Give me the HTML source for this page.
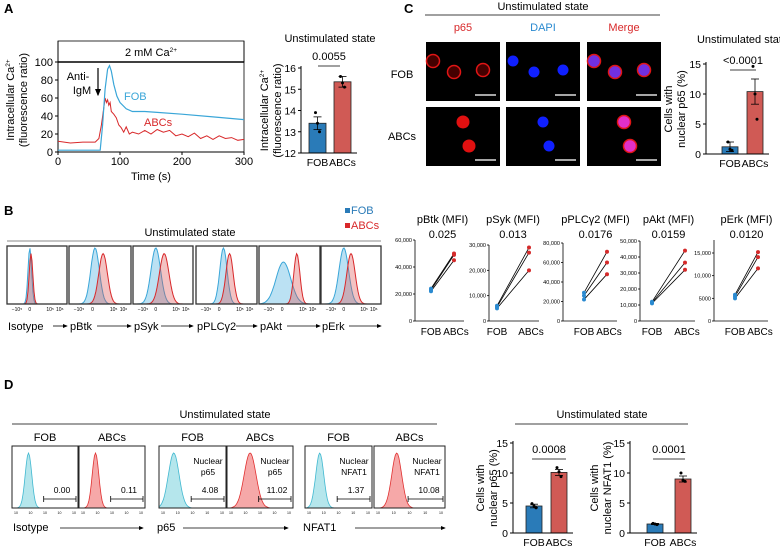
<!DOCTYPE html>
<html><head><meta charset="utf-8">
<style>
html,body{margin:0;padding:0;background:#fff;}
svg{display:block;font-family:"Liberation Sans",Arial,sans-serif;}
</style></head>
<body>
<svg id="fig" width="780" height="550" viewBox="0 0 780 550" xmlns="http://www.w3.org/2000/svg">
<defs>
<marker id="arr" markerWidth="6" markerHeight="6" refX="5" refY="3" orient="auto"><path d="M0,0.5 L6,3 L0,5.5 Z" fill="#000"/></marker>
</defs>
<g id="root"></g>
</svg>
<script>
// ---------- DATA ----------
const caTimesFOB=[0,60,68,72,76,80,83,86,90,95,100,110,120,140,160,200,250,300];
const caValsFOB=[2,2,2,30,70,92,96,90,75,62,55,48,45,45,44,42,39,36];
const caTimesABC=[0,20,40,60,66,70,74,76,78,80,82,84,86,90,94,98,102,106,110,115,120,130,140,150,160,170,180,190,200,210,220,230,240,250,260,270,280,290,300];
const caValsABC=[12,10,11,11,15,30,50,60,55,58,52,55,45,42,38,30,27,22,28,20,22,20,24,20,25,22,24,18,20,17,21,15,18,14,18,15,16,13,14];
const caTicksX=[0,100,200,300];
const caTicksY=[0,20,40,60,80,100];
const groups=["FOB","ABCs"];
const caBarMeans=[13.4,15.35];
const caBarSEM=[0.3,0.25];
const caBarPts=[[13.9,13.4,13.0],[15.6,15.3,15.1]];
const caBarTicks=[12,13,14,15,16];
const p65Means=[1.2,10.4];
const p65SEM=[0.8,2.1];
const p65Pts=[[2.0,0.8,0.6],[14.6,10.0,5.8]];
const p65Ticks=[0,5,10,15];
const mfiTitles=["pBtk (MFI)","pSyk (MFI)","pPLCγ2 (MFI)","pAkt (MFI)","pErk (MFI)"];
const mfiP=["0.025","0.013","0.0176","0.0159","0.0120"];
const mfiFOB=[[24000,23000,22000],[6000,5500,5000],[29000,26000,22000],[12000,11500,11000],[5800,5400,5000]];
const mfiABC=[[50000,49000,45000],[29000,27000,20000],[71000,60000,48000],[44000,36500,32000],[15200,14100,11600]];
const mfiTicks=[[0,20000,40000,60000],[0,10000,20000,30000],[0,20000,40000,60000,80000],[0,10000,20000,30000,40000,50000],[0,5000,10000,15000]];
const histNames=["Isotype","pBtk","pSyk","pPLCγ2","pAkt","pErk"];
const histFOBmu=[0.38,0.42,0.38,0.45,0.40,0.38];
const histFOBsd=[0.03,0.07,0.08,0.06,0.12,0.08];
const histABCmu=[0.40,0.55,0.52,0.55,0.62,0.50];
const histABCsd=[0.03,0.07,0.08,0.06,0.05,0.07];
const dNuc65Means=[4.5,10.1];
const dNuc65SEM=[0.3,0.5];
const dNuc65Pts=[[4.9,4.5,4.2],[10.9,10.2,9.4]];
const dNfatMeans=[1.5,9.0];
const dNfatSEM=[0.1,0.5];
const dNfatPts=[[1.6,1.5,1.4],[10.0,8.8,8.6]];
const dHistVals=["0.00","0.11","4.08","11.02","1.37","10.08"];

// ---------- helpers ----------
const NS="http://www.w3.org/2000/svg";
const root=document.getElementById('root');
function el(tag,attrs,parent,text){const e=document.createElementNS(NS,tag);for(const k in attrs)e.setAttribute(k,attrs[k]);if(text!==undefined)e.textContent=text;(parent||root).appendChild(e);return e;}
function txt(x,y,s,size,parent,anchor,fill,name){const t=el('text',{x:x,y:y,'font-size':size,'text-anchor':anchor||'middle',fill:fill||'#000'},parent,s);

return t;}
function line(x1,y1,x2,y2,stroke,w,parent){return el('line',{x1:x1,y1:y1,x2:x2,y2:y2,stroke:stroke||'#000','stroke-width':w||1},parent);}
const BLUE="#2a7bb8",RED="#d05a55",CYAN="#3aa6d8",TRED="#d8282a";

txt(4,13,"A",13,root,'start','#000','panel-label-a').setAttribute('font-weight','bold');
txt(404,13,"C",13,root,'start','#000','panel-label-c').setAttribute('font-weight','bold');
txt(4,215,"B",13,root,'start','#000','panel-label-b').setAttribute('font-weight','bold');
txt(4,389,"D",13,root,'start','#000','panel-label-d').setAttribute('font-weight','bold');

// ---------- Panel A trace ----------
(function(){
const g=el('g',{});
const x0=58,x1=244,y0=152,y1=62;
const sx=t=>x0+(x1-x0)*t/300, sy=v=>y0-(y0-y1)*v/100;
el('rect',{x:x0,y:41,width:x1-x0,height:21,fill:'none',stroke:'#000','stroke-width':0.8},g);
line(x0,62,x1,62,'#000',1.6,g);
line(x1,41,x1,y0,'#000',0.8,g);
txt(151,56,"2 mM Ca",11,g,'middle','#000','calcium-condition').innerHTML='2 mM Ca<tspan font-size="6.5" dy="-4">2+</tspan>';
line(x0,y0,x1,y0,'#000',1,g);line(x0,41,x0,y0,'#000',1,g);
caTicksX.forEach(t=>{line(sx(t),y0,sx(t),y0+3,'#000',1,g);txt(sx(t),y0+13,String(t),11,g,'middle','#000','x-tick');});
caTicksY.forEach(v=>{line(x0-3,sy(v),x0,sy(v),'#000',1,g);txt(x0-5,sy(v)+4,String(v),11,g,'end','#000','y-tick');});
txt(151,180,"Time (s)",11,g,'middle','#000','x-axis-title');
const yl=el('g',{transform:'translate(14,100) rotate(-90)'},g);
txt(0,0,"",11,yl,'middle').innerHTML='Intracellular Ca<tspan font-size="6.5" dy="-4">2+</tspan>';
txt(0,13,"(fluorescence ratio)",11,yl,'middle');
const pA=caTimesABC.map((t,i)=>(i?'L':'M')+sx(t).toFixed(1)+','+sy(caValsABC[i]).toFixed(1)).join('');
const a=el('path',{d:pA,fill:'none',stroke:TRED,'stroke-width':1},g);
const pF=caTimesFOB.map((t,i)=>(i?'L':'M')+sx(t).toFixed(1)+','+sy(caValsFOB[i]).toFixed(1)).join('');
const f=el('path',{d:pF,fill:'none',stroke:CYAN,'stroke-width':1.2},g);
txt(78,80,"Anti-",11,g,'middle','#000','stimulus-label');txt(82,94,"IgM",11,g,'middle','#000','stimulus-label');
const ar=line(98,68,98,95,'#000',1.2,g);ar.setAttribute('marker-end','url(#arr)');
txt(124,100,"FOB",11,g,'start',CYAN,'fob-label');
txt(144,126,"ABCs",11,g,'start',TRED,'abcs-label');
})();

// ---------- bar chart helper ----------
function barChart(name,ax,yBot,yTop,ticks,means,sem,pts,bx,bw,title,titleY,pval,pY,pX1,pX2,ylab,ylx){
const g=el('g',{});
const lo=ticks[0],hi=ticks[ticks.length-1];
const sy=v=>yBot-(yBot-yTop)*(v-lo)/(hi-lo);
const cols=[BLUE,RED];
means.forEach((m,i)=>{
 const r=el('rect',{x:bx[i],y:sy(m),width:bw,height:yBot-sy(m),fill:cols[i],stroke:'#222','stroke-width':0.8},g);
 
 const cx=bx[i]+bw/2;
 line(cx,sy(m+sem[i]),cx,sy(m-sem[i]),'#000',0.8,g);
 line(cx-4,sy(m+sem[i]),cx+4,sy(m+sem[i]),'#000',0.8,g);line(cx-4,sy(m-sem[i]),cx+4,sy(m-sem[i]),'#000',0.8,g);
 pts[i].forEach((v,j)=>{const c=el('circle',{cx:cx+(j-1)*2,cy:sy(v),r:1.5,fill:'#000'},g);});
 txt(cx,yBot+13,groups[i],10.5,g,'middle','#000','x-tick');
});
line(ax,yTop-2,ax,yBot,'#000',1,g);line(ax,yBot,bx[1]+bw+6,yBot,'#000',1,g);
ticks.forEach(v=>{line(ax-3,sy(v),ax,sy(v),'#000',1,g);txt(ax-5,sy(v)+4,String(v),10.5,g,'end','#000','y-tick');});
if(title)txt((bx[0]+bx[1]+bw)/2,titleY,title,11,g,'middle','#000','chart-title');
txt((pX1+pX2)/2,pY,pval,11,g,'middle','#000','p-value');
line(pX1,pY+6,pX2,pY+6,'#000',0.8,g);
const yl=el('g',{transform:'translate('+ylx+','+((yBot+yTop)/2)+') rotate(-90)'},g);
txt(0,0,"",11,yl,'middle').innerHTML=ylab[0];txt(0,13,"",11,yl,'middle').innerHTML=ylab[1];
}
barChart('calcium-bar-chart',301,153,68,caBarTicks,caBarMeans,caBarSEM,caBarPts,[309,334],17,"Unstimulated state",42,"0.0055",60,318,340,['Intracellular Ca<tspan font-size="6.5" dy="-4">2+</tspan>','(fluorescence ratio)'],268);
barChart('nuclear-p65-bar-chart-c',706,154,64,p65Ticks,p65Means,p65SEM,p65Pts,[722,747],16,"Unstimulated state",43,"<0.0001",64,730,756,['Cells with','nuclear p65 (%)'],672);

// ---------- Panel C images ----------
(function(){
const g=el('g',{});
txt(543,10,"Unstimulated state",11,g,'middle','#000','header');line(425,15,660,15,'#000',0.8,g);
const cx=[463,543,624],heads=["p65","DAPI","Merge"],hc=[TRED,'#2a8ad0',TRED];
heads.forEach((h,i)=>txt(cx[i],31,h,11,g,'middle',hc[i],'channel-label'));
txt(402,78,"FOB",11,g,'middle','#000','row-label');txt(402,140,"ABCs",11,g,'middle','#000','row-label');
const rows=[42,107];
const cells=[[[433,61],[454,72],[483,70]],[[463,122],[469,146]]];
rows.forEach((ry,r)=>cx.forEach((c,i)=>{
 const x=c-37;
 const im=el('rect',{x:x,y:ry,width:74,height:59,fill:'#000'},g);
 cells[r].forEach(p=>{const px=p[0]-426+x, py=p[1]-(r?107:42)+ry;
  if(i==0){el('circle',{cx:px,cy:py,r:6.5,fill:r?'#e01010':'#400',stroke:'#e01515','stroke-width':r?0:1.5},g);}
  else if(i==1){el('circle',{cx:px,cy:py,r:5.5,fill:'#1020ff'},g);}
  else{el('circle',{cx:px,cy:py,r:6.5,fill:r?'#e030c8':'#7030e0',stroke:'#e01515','stroke-width':1.5},g);}
 });
 line(x+49,ry+53,x+70,ry+53,'#ddd',1.5,g);
}));
})();

// ---------- Panel B histograms ----------
function gauss(mu,sd,w,h,x0,yb,n){let d='M'+x0+','+yb;for(let k=0;k<=n;k++){const t=k/n;const v=Math.exp(-0.5*Math.pow((t-mu)/sd,2));d+='L'+(x0+t*w).toFixed(1)+','+(yb-v*h).toFixed(1);}return d+'Z';}
(function(){
const g=el('g',{});
txt(190,236,"Unstimulated state",11,g,'middle','#000','header');line(7,241,381,241,'#888',1,g);
const l1=el('rect',{x:345,y:208,width:5,height:5,fill:BLUE},g);
txt(351,214,"FOB",11,g,'start',BLUE,'legend-entry');
el('rect',{x:345,y:223,width:5,height:5,fill:TRED},g);
txt(351,229,"ABCs",11,g,'start',TRED,'legend-entry');
const bx=[7,69,133,196,259,321],bw=[60,62,60,61,61,60];
histNames.forEach((nm,i)=>{
 const x=bx[i],w=bw[i],yb=304,h=56;
 const b=el('g',{},g);
 el('path',{d:gauss(histFOBmu[i],histFOBsd[i],w,h*(i==4?0.75:1),x,yb,60),fill:'rgba(60,170,220,0.35)',stroke:CYAN,'stroke-width':1},b);
 el('path',{d:gauss(histABCmu[i],histABCsd[i],w,h*0.9,x,yb,60),fill:'rgba(220,80,80,0.35)',stroke:TRED,'stroke-width':1},b);
 el('rect',{x:x,y:246,width:w,height:58,fill:'none',stroke:'#333','stroke-width':1.3},b);
 txt(x+10,311,"−10⁵",5,b,'middle','#000','tick');txt(x+w*0.38,311,"0",5,b,'middle','#000','tick');
 txt(x+w*0.72,311,"10⁵",5,b,'middle','#000','tick');txt(x+w*0.88,311,"10⁶",5,b,'middle','#000','tick');
 txt(x+1,330,nm,11,b,'start','#000','axis-label');
 const ax=line(x+nm.length*6+4,326,x+w,326,'#000',0.8,b);ax.setAttribute('marker-end','url(#arr)');
});
})();

// ---------- Panel B MFI paired plots ----------
(function(){
const axX=[415,489,563,640,714],fX=[431,497,584,652,735],aX=[454,529,607,685,758],topY=[240,245,243,241,240];
const labs=[v=>v.toLocaleString('en-US'),v=>v.toLocaleString('en-US'),v=>v.toLocaleString('en-US'),v=>v.toLocaleString('en-US'),v=>v>=10000?v.toLocaleString('en-US'):String(v)];
mfiTitles.forEach((t,i)=>{
 const g=el('g',{});
 const yb=321,top=topY[i],mx=mfiTicks[i][mfiTicks[i].length-1];
 const sy=v=>yb-(yb-top)*v/(i==4?15000:mx)*(i==4?(yb-253)/(yb-top):1);
 line(axX[i],i==4?240:top,axX[i],yb,'#000',0.8,g);line(axX[i],yb,aX[i]+10,yb,'#000',0.8,g);
 mfiTicks[i].forEach(v=>{line(axX[i]-2,sy(v),axX[i],sy(v),'#000',0.8,g);txt(axX[i]-3,sy(v)+2,labs[i](v),5.5,g,'end','#000','y-tick');});
 txt((fX[i]+aX[i])/2,223,t,11,g,'middle','#000','chart-title');
 txt((fX[i]+aX[i])/2,238,mfiP[i],11,g,'middle','#000','p-value');
 mfiFOB[i].forEach((v,j)=>{line(fX[i],sy(v),aX[i],sy(mfiABC[i][j]),'#000',0.8,g);});
 mfiFOB[i].forEach(v=>{const c=el('circle',{cx:fX[i],cy:sy(v),r:2,fill:'#2a8ad0'},g);});
 mfiABC[i].forEach(v=>{const c=el('circle',{cx:aX[i],cy:sy(v),r:2,fill:'#d42a2a'},g);});
 txt(fX[i],335,"FOB",10,g,'middle','#000','x-tick');txt(aX[i]+2,335,"ABCs",10,g,'middle','#000','x-tick');
});
})();

// ---------- Panel D histograms ----------
(function(){
const g=el('g',{});
txt(225,418,"Unstimulated state",11,g,'middle','#000','header');line(12,424,437,424,'#000',0.8,g);
const bx=[12,79,159,227,305,374],bw=[66,66,67,66,67,71];
const mus=[0.25,0.25,0.22,0.35,0.22,0.32],sds=[0.05,0.05,0.08,0.09,0.06,0.07];
const gl=[null,null,"p65","p65","NFAT1","NFAT1"];
bx.forEach((x,i)=>{
 const w=bw[i],red=i%2==1;
 const b=el('g',{},g);
 txt(x+w/2,441,red?"ABCs":"FOB",11,b,'middle','#000','group-label');
 el('path',{d:gauss(mus[i],sds[i],w,55,x,508,60),fill:red?'rgba(240,110,110,0.6)':'rgba(120,210,220,0.55)',stroke:red?'#e03030':'#40b8d0','stroke-width':0.8},b);
 el('rect',{x:x,y:446,width:w,height:62,fill:'none',stroke:'#222','stroke-width':1},b);
 if(gl[i]){txt(x+w-18,464,"Nuclear",8.5,b,'middle','#000','gate-label');txt(x+w-18,475,gl[i],8.5,b,'middle','#000','gate-label');}
 txt(x+w-16,493,dHistVals[i],8.5,b,'middle','#000','gate-value');
 line(x+w*0.48,499,x+w-2,499,'#000',0.8,b);line(x+w*0.48,496,x+w*0.48,502,'#000',0.8,b);line(x+w-2,496,x+w-2,502,'#000',0.8,b);
 for(let k=0;k<5;k++)txt(x+4+k*(w-8)/4,514,"10",3.5,b,'middle','#000','tick');
});
[["Isotype",13,60,143],["p65",157,183,288],["NFAT1",303,355,445]].forEach(a=>{
 txt(a[1],531,a[0],11,g,'start','#000','axis-label');const l=line(a[2],528,a[3],528,'#000',0.8,g);l.setAttribute('marker-end','url(#arr)');
});
txt(602,418,"Unstimulated state",11,g,'middle','#000','header');line(515,424,688,424,'#000',0.8,g);
})();
barChart('nuclear-p65-bar-chart-d',513,533,443,p65Ticks,dNuc65Means,dNuc65SEM,dNuc65Pts,[526,551],16,null,0,"0.0008",453,532,566,['Cells with','nuclear p65 (%)'],484);
barChart('nuclear-nfat1-bar-chart',630,533,443,p65Ticks,dNfatMeans,dNfatSEM,dNfatPts,[647,675],16,null,0,"0.0001",453,653,685,['Cells with','nuclear NFAT1 (%)'],598);
</script>
</body></html>
